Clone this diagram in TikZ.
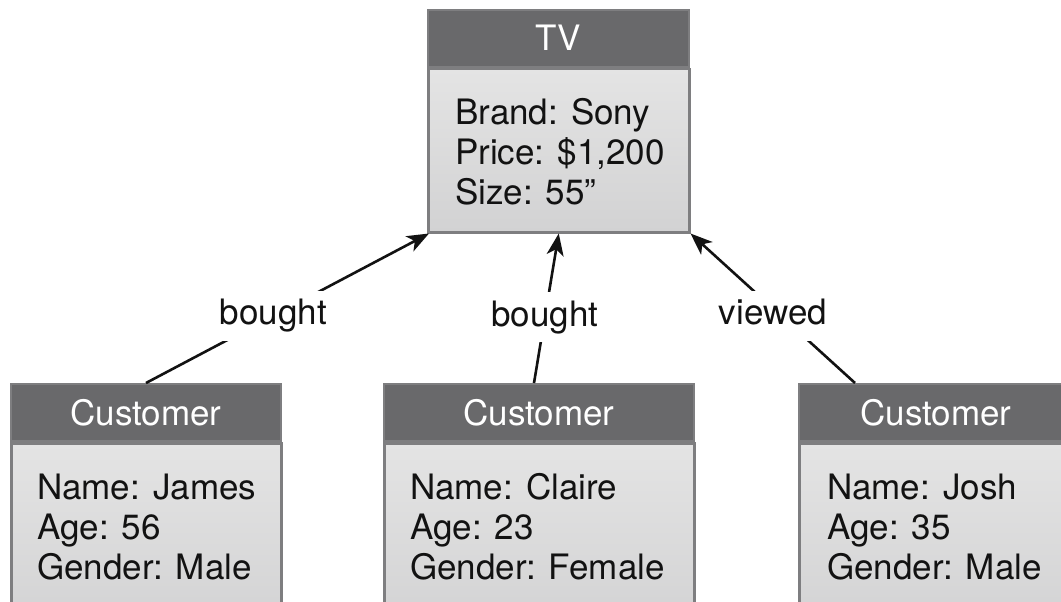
\documentclass[tikz,border=0pt]{standalone}
\usepackage{fontspec}
\setmainfont{TeX Gyre Heros}
\usetikzlibrary{arrows.meta}
\definecolor{headfill}{HTML}{69696B}
\definecolor{boxline}{HTML}{7E7E80}
\definecolor{bodytop}{HTML}{E4E4E4}
\definecolor{bodybot}{HTML}{D2D2D3}
\definecolor{ink}{HTML}{121212}
\tikzset{
  head/.style={draw=boxline, line width=2pt, fill=headfill, text=white,
    minimum height=57pt, inner sep=0pt, anchor=north west,
    font=\fontsize{35}{40}\selectfont, text height=25pt, text depth=0pt},
  body/.style={draw=boxline, line width=2.5pt, top color=bodytop, bottom color=bodybot,
    inner sep=0pt, anchor=north west},
  fields/.style={anchor=north west, inner sep=0pt, align=left, text=ink,
    font=\fontsize{35}{40}\selectfont},
  link/.style={draw=ink, line width=2.6pt, -{Stealth[length=22pt, width=17pt, inset=6pt]}},
  lbl/.style={fill=white, text=ink, inner xsep=4pt, inner ysep=8pt,
    text height=26pt, text depth=8pt, font=\fontsize{35}{40}\selectfont},
}
\begin{document}
\begin{tikzpicture}[x=1pt, y={(0pt,-1pt)}]
  \clip (0,0) rectangle (1061,602);
  \fill[white] (0,0) rectangle (1061,602);

  % product
  \node[head, minimum width=261pt] (tvh) at (427,9) {TV};
  \node[body, minimum width=261pt, minimum height=163pt] (tv) at (tvh.south west) {};
  \node[fields] (tvf) at ([xshift=28pt, yshift=-30pt] tv.north west)
    {\rule{0pt}{26pt}Brand: Sony\\ Price: \$1,200\\ Size: 55”};

  % customers
  \node[head, minimum width=270pt] (c1h) at (10,383) {Customer};
  \node[body, minimum width=270pt, minimum height=190pt] (c1) at (c1h.south west) {};
  \node[fields] (c1f) at ([xshift=27pt, yshift=-31pt] c1.north west)
    {\rule{0pt}{26pt}Name: James\\ Age: 56\\ Gender: Male};

  \node[head, minimum width=310pt] (c2h) at (383,383) {Customer};
  \node[body, minimum width=310pt, minimum height=190pt] (c2) at (c2h.south west) {};
  \node[fields] (c2f) at ([xshift=27pt, yshift=-31pt] c2.north west)
    {\rule{0pt}{26pt}Name: Claire\\ Age: 23\\ Gender: Female};

  \node[head, minimum width=274pt] (c3h) at (798,383) {Customer};
  \node[body, minimum width=274pt, minimum height=190pt] (c3) at (c3h.south west) {};
  \node[fields] (c3f) at ([xshift=29pt, yshift=-31pt] c3.north west)
    {\rule{0pt}{26pt}Name: Josh\\ Age: 35\\ Gender: Male};

  % relations
  \draw[link] (c1h.north) -- node[lbl, pos=0.45] {bought} ([xshift=2pt]tv.south west);
  \draw[link] ([xshift=-5pt]c2h.north) -- node[lbl, pos=0.44] {bought} (tv.south);
  \draw[link] ([xshift=57pt]c3h.north west) -- node[lbl, pos=0.45, xshift=-8pt] {viewed} (tv.south east);
\end{tikzpicture}
\end{document}
